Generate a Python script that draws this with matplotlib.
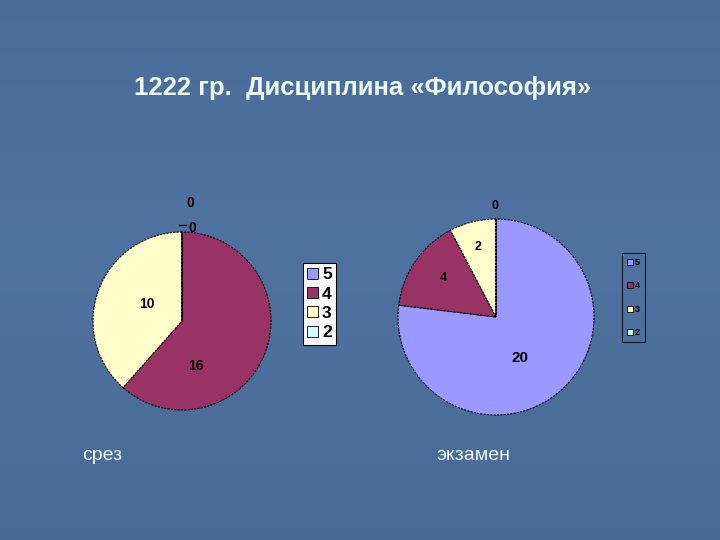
import numpy as np
import matplotlib.pyplot as plt

# grades and counts
grades = ['5', '4', '3', '2']
srez = [0, 16, 10, 0]
ekzamen = [20, 4, 2, 0]

title = '1222 гр.  Дисциплина «Философия»'
captions = ['срез', 'экзамен']

colors = ['#9999FF', '#993366', '#FFFFCC', '#CCFFFF']
bg = '#4c6e9a'
txt = '#eefafa'

plt.rcParams['font.family'] = ['Liberation Sans', 'DejaVu Sans']

fig = plt.figure(figsize=(7.2, 5.4), dpi=100, facecolor=bg)

# soft background shading (darker at top, a bit lighter in the middle)
bg_ax = fig.add_axes([0, 0, 1, 1], zorder=-10)
yy, xx = np.mgrid[0:1:100j, 0:1:100j]
top = np.array([0.28, 0.41, 0.58])
mid = np.array([0.31, 0.45, 0.63])
t = np.clip(1 - np.abs(yy - 0.45) * 1.6, 0, 1)[..., None]
img = top * (1 - t) + mid * t
bg_ax.imshow(img, aspect='auto', extent=[0, 1, 0, 1], origin='upper')
bg_ax.set_axis_off()

fig.text(0.503, 1 - 88 / 540, title, ha='center', va='center',
         fontsize=18.5, fontweight='bold', color=txt)
fig.text(102 / 720, 1 - 456 / 540, captions[0], ha='center', va='center',
         fontsize=14, color=txt)
fig.text(473 / 720, 1 - 456 / 540, captions[1], ha='center', va='center',
         fontsize=14, color=txt)

wp = dict(edgecolor='black', linewidth=0.8, linestyle=(0, (2, 1)))

# left pie: срез
ax1 = fig.add_axes([93 / 720, 1 - 410 / 540, 178 / 720, 178 / 540])
w1, _ = ax1.pie(srez, colors=colors, startangle=90, counterclock=False,
                wedgeprops=wp)
ax1.set_xlim(-1, 1)
ax1.set_ylim(-1, 1)
ax1.set_aspect('equal')
lab1 = [(0.09, 1.33), (0.12, 1.04), (-0.40, 0.19), (0.16, -0.50)]
order1 = [0, 3, 2, 1]
for i, (x, y) in zip(order1, lab1):
    ax1.text(x, y, str(srez[i]), ha='center', va='center', fontsize=10,
             fontweight='bold', color='black', clip_on=False)
ax1.plot([-0.03, 0.05], [1.08, 1.08], color='black', lw=1.0, clip_on=False)

# right pie: экзамен
ax2 = fig.add_axes([398 / 720, 1 - 415 / 540, 196 / 720, 196 / 540])
w2, _ = ax2.pie(ekzamen, colors=colors, startangle=90, counterclock=False,
                wedgeprops=wp)
ax2.set_xlim(-1, 1)
ax2.set_ylim(-1, 1)
ax2.set_aspect('equal')
lab2 = [(0.245, -0.42), (-0.54, 0.40), (-0.18, 0.71), (-0.01, 1.13)]
for v, (x, y) in zip(ekzamen, lab2):
    ax2.text(x, y, str(v), ha='center', va='center',
             fontsize=11 if v >= 10 else 9,
             fontweight='bold', color='black', clip_on=False)

# legend handles: plain squares, solid edges
h1 = [plt.Rectangle((0, 0), 1, 1, facecolor=c, edgecolor='black', lw=0.6)
      for c in colors]

leg1 = fig.legend(h1, grades, loc='upper left',
                  bbox_to_anchor=(303 / 720, 1 - 263 / 540),
                  prop=dict(size=12.5, weight='bold'), frameon=True, fancybox=False,
                  edgecolor='black', facecolor='white', framealpha=1,
                  handlelength=0.6, handleheight=0.6, handletextpad=0.25,
                  labelspacing=0.25, borderpad=0.25, borderaxespad=0)
leg1.get_frame().set_linewidth(0.8)

leg2 = fig.legend(h1, grades, loc='upper left',
                  bbox_to_anchor=(622 / 720, 1 - 253 / 540),
                  prop=dict(size=6.5, weight='bold'), frameon=True, fancybox=False,
                  edgecolor='black', facecolor='none',
                  handlelength=0.7, handleheight=0.7, handletextpad=0.2,
                  labelspacing=1.6, borderpad=0.55, borderaxespad=0)
leg2.get_frame().set_linewidth(0.8)

fig.savefig('out.png', dpi=100, facecolor=bg)
